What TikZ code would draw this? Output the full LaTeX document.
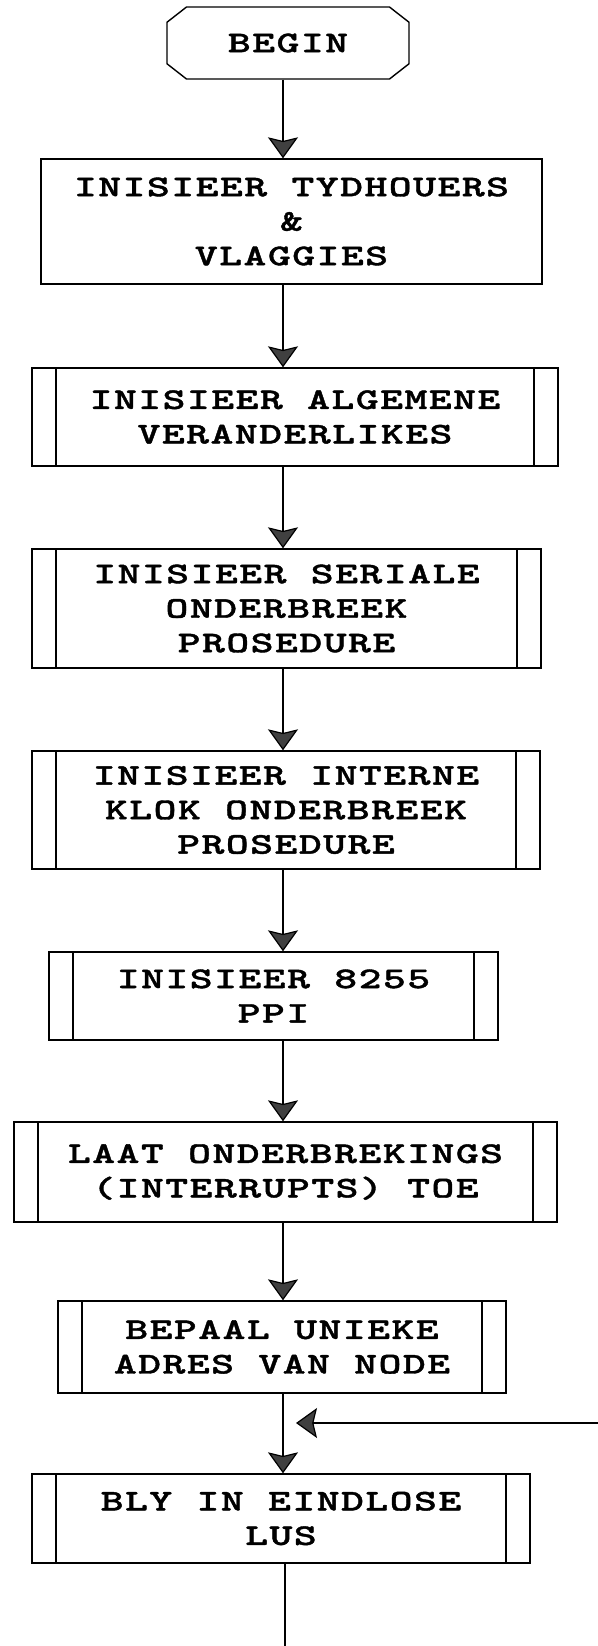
\documentclass[tikz,border=0pt]{standalone}
\usepackage{fontspec}
\newfontfamily\boxfont{lmmonolt10-bold.otf}[FakeStretch=1.45, LetterSpace=5, FakeBold=1.3]
\usetikzlibrary{positioning,arrows.meta,shapes.misc}

\begin{document}
\begin{tikzpicture}[x=0.5pt, y=-0.5pt,
  font=\boxfont\fontsize{15}{17.25}\selectfont,
  term/.style={chamfered rectangle, draw, line width=0.7pt, align=center, inner sep=0pt,
    chamfered rectangle xsep=9pt, chamfered rectangle angle=52},
  box/.style={rectangle, draw, line width=0.7pt, align=center, inner sep=0pt},
  sub/.style={box, path picture={
    \draw[line width=0.6pt] ([xshift=12pt]path picture bounding box.north west) -- ([xshift=12pt]path picture bounding box.south west);
    \draw[line width=0.6pt] ([xshift=-12pt]path picture bounding box.north east) -- ([xshift=-12pt]path picture bounding box.south east);}},
  e/.style={-{Stealth[length=10.5pt, width=15pt, inset=1.8pt, fill=black!75]}, line width=0.6pt}]
\useasboundingbox (0,0) rectangle (598,1646);
\node[term, minimum width=121pt, minimum height=36pt] (begin) at (288,43) {BEGIN};
\node[box, minimum width=250.5pt, minimum height=62.5pt] (tyd) at (291.5,221.5) {INISIEER TYDHOUERS\\\&\\VLAGGIES};
\node[sub, minimum width=263pt, minimum height=49pt] (alg) at (295,417) {INISIEER ALGEMENE\\VERANDERLIKES};
\node[sub, minimum width=254.5pt, minimum height=59.5pt] (ser) at (286.5,608.5) {INISIEER SERIALE\\ONDERBREEK\\PROSEDURE};
\node[sub, minimum width=254pt, minimum height=59pt] (klok) at (286,810) {INISIEER INTERNE\\KLOK ONDERBREEK\\PROSEDURE};
\node[sub, minimum width=224.5pt, minimum height=44pt] (ppi) at (273.5,996) {INISIEER 8255\\PPI};
\node[sub, minimum width=271.5pt, minimum height=50pt] (int) at (285.5,1172) {LAAT ONDERBREKINGS\\(INTERRUPTS) TOE};
\node[sub, minimum width=224pt, minimum height=46pt] (adres) at (282,1347) {BEPAAL UNIEKE\\ADRES VAN NODE};
\node[sub, minimum width=249pt, minimum height=44.5pt] (lus) at (281,1518.5) {BLY IN EINDLOSE\\LUS};
\coordinate (axis) at (283,0);
\coordinate (loopin) at (598,1423);
\coordinate (out) at (285,1646);
\draw[e] (begin.south -| axis) -- (tyd.north -| axis);
\draw[e] (tyd.south -| axis) -- (alg.north -| axis);
\draw[e] (alg.south -| axis) -- (ser.north -| axis);
\draw[e] (ser.south -| axis) -- (klok.north -| axis);
\draw[e] (klok.south -| axis) -- (ppi.north -| axis);
\draw[e] (ppi.south -| axis) -- (int.north -| axis);
\draw[e] (int.south -| axis) -- (adres.north -| axis);
\draw[e] (adres.south -| axis) -- (lus.north -| axis);
\draw[e] (loopin) -- ([xshift=6.5pt]loopin -| axis);
\draw[line width=0.6pt] (lus.south -| out) -- (out);
\end{tikzpicture}
\end{document}
